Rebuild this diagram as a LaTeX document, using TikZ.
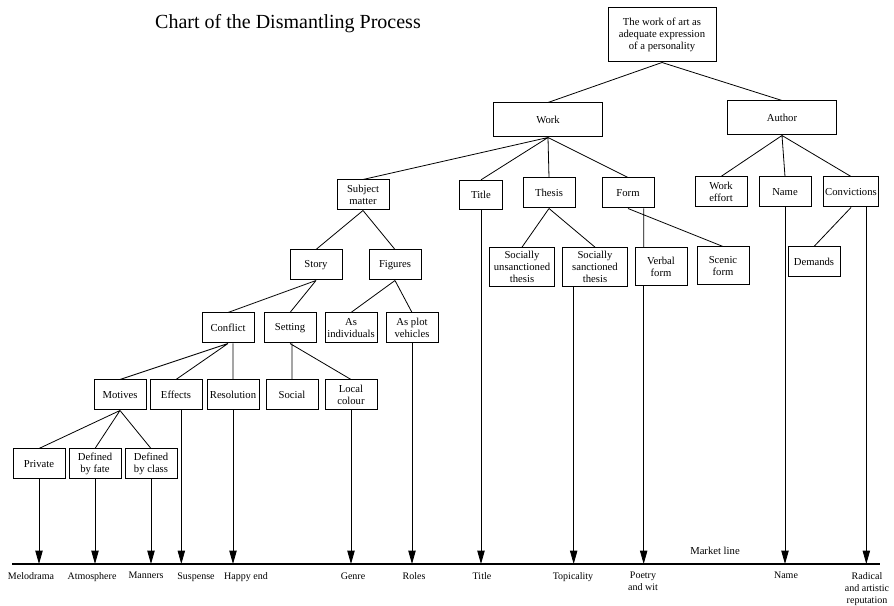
\documentclass[tikz,border=0pt]{standalone}
\usepackage{fontspec}
\setmainfont{Liberation Serif}
\usetikzlibrary{arrows.meta}
\tikzset{
  box/.style={draw, line width=0.75pt, align=center, inner sep=1pt, minimum width=39pt, minimum height=22.5pt, font=\fontsize{8}{9}\selectfont},
  wide/.style={minimum width=48.75pt, minimum height=29pt},
  outcome/.style={align=center, inner sep=0pt, anchor=north, font=\fontsize{7.5}{9}\selectfont},
  tomarket/.style={-{Triangle[length=10pt,width=5.5pt]}, line width=0.6pt}
}

\begin{document}
\begin{tikzpicture}[x=0.75pt, y=-0.75pt, line width=0.6pt]
  \useasboundingbox (0,0) rectangle (894,606);
  \node[font=\fontsize{15}{18}\selectfont] (chart) at (288,24) {Chart of the Dismantling Process};
  % boxes
  \node[box, minimum width=81pt, minimum height=40.5pt] (art) at (662,35) {The work of art as\\adequate expression\\of a personality};
  \node[box, minimum width=82pt, minimum height=25.5pt] (work) at (548,120) {Work};
  \node[box, minimum width=82pt, minimum height=25.5pt] (author) at (782,118) {Author};
  \node[box] (subject) at (363,195) {Subject\\matter};
  \node[box, minimum width=32pt, minimum height=22pt] (title) at (481,195) {Title};
  \node[box] (thesis) at (549,193) {Thesis};
  \node[box] (form) at (628,193) {Form};
  \node[box] (effort) at (721,192) {Work\\effort};
  \node[box] (name) at (785,192) {Name};
  \node[box] (convictions) at (851,192) {Convictions};
  \node[box, wide] (unsanctioned) at (522,267) {Socially\\unsanctioned\\thesis};
  \node[box, wide] (sanctioned) at (595,267) {Socially\\sanctioned\\thesis};
  \node[box, minimum height=28.5pt] (verbal) at (661,267) {Verbal\\form};
  \node[box, minimum height=28.5pt] (scenic) at (723,266) {Scenic\\form};
  \node[box] (demands) at (814,262) {Demands};
  \node[box] (story) at (316,265) {Story};
  \node[box] (figures) at (395,265) {Figures};
  \node[box] (conflict) at (228,328) {Conflict};
  \node[box] (setting) at (290,328) {Setting};
  \node[box] (individuals) at (351,328) {As\\individuals};
  \node[box] (vehicles) at (412,328) {As plot\\vehicles};
  \node[box] (motives) at (120,395) {Motives};
  \node[box] (effects) at (176,395) {Effects};
  \node[box] (resolution) at (233,395) {Resolution};
  \node[box] (social) at (292,395) {Social};
  \node[box] (colour) at (351,395) {Local\\colour};
  \node[box] (private) at (39,464) {Private};
  \node[box] (fate) at (95,464) {Defined\\by fate};
  \node[box] (class) at (151,464) {Defined\\by class};
  % tree
  \coordinate (verbalx) at ([xshift=-13pt]verbal.north);
  \draw (art.south) -- (work.north) (art.south) -- (author.north);
  \draw (work.south) -- (subject.north) (work.south) -- (title.north) (work.south) -- (thesis.north) (work.south) -- (form.north);
  \draw (author.south) -- (effort.north) (author.south) -- (name.north) (author.south) -- (convictions.north);
  \draw (thesis.south) -- (unsanctioned.north) (thesis.south) -- (sanctioned.north);
  \draw (form.south -| verbalx) -- (verbalx) (form.south) -- (scenic.north);
  \draw (convictions.south) -- (demands.north);
  \draw (subject.south) -- (story.north) (subject.south) -- (figures.north);
  \draw (story.south) -- (conflict.north) (story.south) -- (setting.north);
  \draw (figures.south) -- (individuals.north) (figures.south) -- (vehicles.north);
  \draw (conflict.south) -- (motives.north) (conflict.south) -- (effects.north) (conflict.south -| resolution.north) -- (resolution.north);
  \draw (setting.south -| social.north) -- (social.north) (setting.south) -- (colour.north);
  \draw (motives.south) -- (private.north) (motives.south) -- (fate.north) (motives.south) -- (class.north);
  % market line
  \coordinate (marketW) at (12,564);
  \coordinate (marketE) at (880,564);
  \draw[line width=1pt] (marketW) -- (marketE);
  \node[font=\fontsize{8}{9}\selectfont] (marketlabel) at (715,551) {Market line};
  \draw[tomarket] (private.south) -- (private.south |- marketW);
  \draw[tomarket] (fate.south) -- (fate.south |- marketW);
  \draw[tomarket] (class.south) -- (class.south |- marketW);
  \draw[tomarket] ([xshift=4pt]effects.south) -- ([xshift=4pt]effects.south |- marketW);
  \draw[tomarket] (resolution.south) -- (resolution.south |- marketW);
  \draw[tomarket] (colour.south) -- (colour.south |- marketW);
  \draw[tomarket] (vehicles.south) -- (vehicles.south |- marketW);
  \draw[tomarket] (title.south) -- (title.south |- marketW);
  \draw[tomarket] ([xshift=-16pt]sanctioned.south) -- ([xshift=-16pt]sanctioned.south |- marketW);
  \draw[tomarket] (verbalx |- verbal.south) -- (verbalx |- marketW);
  \draw[tomarket] (name.south) -- (name.south |- marketW);
  \draw[tomarket] ([xshift=11.5pt]convictions.south) -- ([xshift=11.5pt]convictions.south |- marketW);
  % outcomes
  \node[outcome] (melodrama) at (31,572) {Melodrama};
  \node[outcome] (atmosphere) at (92,572) {Atmosphere};
  \node[outcome] (manners) at (146,572) {Manners};
  \node[outcome] (suspense) at (196,572) {Suspense};
  \node[outcome] (happyend) at (246,572) {Happy end};
  \node[outcome] (genre) at (353,572) {Genre};
  \node[outcome] (roles) at (414,572) {Roles};
  \node[outcome] (titleout) at (482,572) {Title};
  \node[outcome] (topicality) at (573,572) {Topicality};
  \node[outcome] (poetry) at (643,572) {Poetry\\and wit};
  \node[outcome] (nameout) at (786,572) {Name};
  \node[outcome] (radical) at (867,572) {Radical\\and artistic\\reputation};
\end{tikzpicture}
\end{document}
